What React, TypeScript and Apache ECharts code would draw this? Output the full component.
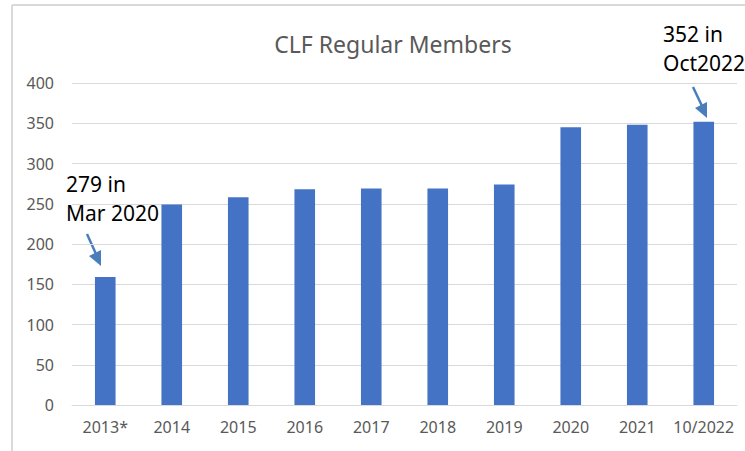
import React, { useEffect, useRef } from "react";
import * as echarts from "echarts";

const categories = ["2013*", "2014", "2015", "2016", "2017", "2018", "2019", "2020", "2021", "10/2022"];
const members = [159, 249, 258, 268, 269, 269, 274, 345, 348, 352];
const yTicks = { min: 0, max: 400, interval: 50 };
const titleText = "CLF Regular Members";
const note1 = ["279 in", "Mar 2020"];
const note2 = ["352 in", "Oct2022"];

const FONT = "'Noto Sans', sans-serif";
const ARROW = "#4A7EBB";

export default function App() {
  const ref = useRef<HTMLDivElement>(null);
  useEffect(() => {
    if (!ref.current) return;
    const chart = echarts.init(ref.current, null, { renderer: "svg" });
    chart.setOption({
      animation: false,
      backgroundColor: "#ffffff",
      title: {
        text: titleText,
        left: 388,
        top: 27,
        textAlign: "center",
        textStyle: { color: "#595959", fontSize: 23, fontWeight: "normal", fontFamily: FONT },
      },
      grid: { left: 72, right: 8, top: 83, bottom: 46, containLabel: false },
      xAxis: {
        type: "category",
        data: categories,
        axisLine: { lineStyle: { color: "#d9d9d9", width: 1 } },
        axisTick: { show: false },
        axisLabel: { color: "#595959", fontSize: 16, fontFamily: FONT, margin: 14, interval: 0 },
      },
      yAxis: {
        type: "value",
        min: yTicks.min,
        max: yTicks.max,
        interval: yTicks.interval,
        axisLine: { show: false },
        axisTick: { show: false },
        splitLine: { lineStyle: { color: "#d9d9d9", width: 1 } },
        axisLabel: { color: "#595959", fontSize: 16, fontFamily: FONT, margin: 18 },
      },
      series: [
        {
          type: "bar",
          data: members,
          barWidth: "31%",
          itemStyle: { color: "#4472C4" },
        },
      ],
      graphic: [
        { type: "line", shape: { x1: 12, y1: 5, x2: 745, y2: 5 }, style: { stroke: "#d9d9d9", lineWidth: 2 } },
        { type: "line", shape: { x1: 12, y1: 5, x2: 12, y2: 451 }, style: { stroke: "#d9d9d9", lineWidth: 2 } },
        {
          type: "text",
          left: 66,
          top: 169,
          style: { text: note1.join("\n"), fill: "#000", fontSize: 21, fontFamily: FONT, lineHeight: 29 },
        },
        {
          type: "text",
          left: 663,
          top: 19,
          style: { text: note2.join("\n"), fill: "#000", fontSize: 21, fontFamily: FONT, lineHeight: 29 },
        },
        { type: "line", shape: { x1: 87, y1: 234, x2: 96, y2: 254 }, style: { stroke: ARROW, lineWidth: 2.5 } },
        { type: "polygon", shape: { points: [[89, 256], [101, 250], [101, 266]] }, style: { fill: ARROW } },
        { type: "line", shape: { x1: 693, y1: 87, x2: 702, y2: 106 }, style: { stroke: ARROW, lineWidth: 2.5 } },
        { type: "polygon", shape: { points: [[695, 108], [707, 102], [707, 118]] }, style: { fill: ARROW } },
      ],
    });
    return () => chart.dispose();
  }, []);
  return <div ref={ref} style={{ position: "fixed", left: 0, top: 0, width: 745, height: 451 }} />;
}
